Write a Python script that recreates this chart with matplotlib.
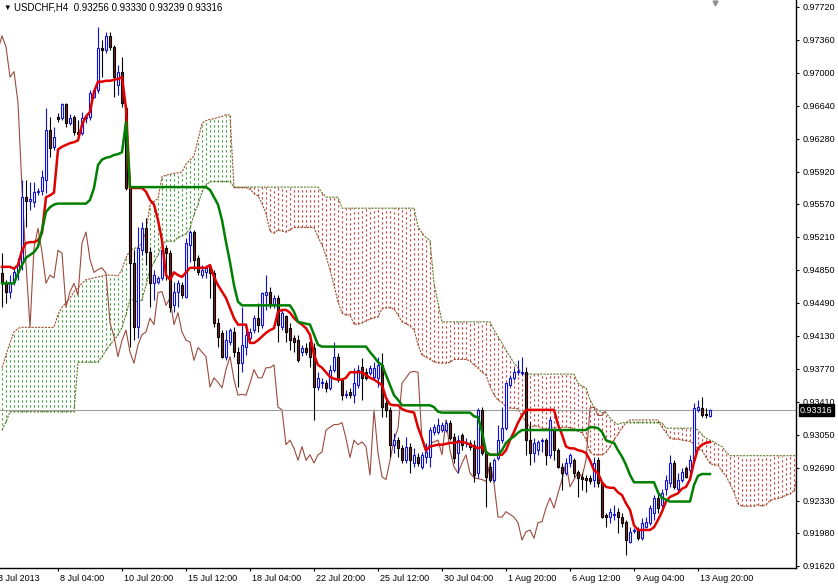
import numpy as np
import matplotlib
matplotlib.use("Agg")
import matplotlib.pyplot as plt
import matplotlib.transforms as mtransforms

plt.rcParams["font.family"] = ["Liberation Sans", "DejaVu Sans"]

symbol = "USDCHF,H4"
last_bar = [0.93256, 0.93330, 0.93239, 0.93316]
current_price = 0.93316

# H4 candles, oldest first
opens = [
    0.9481, 0.9470, 0.9461, 0.9472, 0.9482, 0.9492, 0.9564, 0.9560, 0.9559, 0.9570,
    0.9571, 0.9583, 0.9637, 0.9619, 0.9652, 0.9650, 0.9666, 0.9645, 0.9652, 0.9635,
    0.9634, 0.9650, 0.9652, 0.9673, 0.9681, 0.9727, 0.9725, 0.9740, 0.9728, 0.9686,
    0.9701, 0.9661, 0.9574, 0.9492, 0.9422, 0.9506, 0.9530, 0.9504, 0.9470, 0.9472,
    0.9476, 0.9509, 0.9503, 0.9446, 0.9461, 0.9468, 0.9455, 0.9512, 0.9526, 0.9498,
    0.9479, 0.9482, 0.9488, 0.9481, 0.9427, 0.9416, 0.9390, 0.9406, 0.9417, 0.9395,
    0.9383, 0.9401, 0.9410, 0.9419, 0.9432, 0.9425, 0.9457, 0.9461, 0.9446, 0.9454,
    0.9422, 0.9434, 0.9421, 0.9410, 0.9408, 0.9395, 0.9400, 0.9406, 0.9400, 0.9357,
    0.9361, 0.9361, 0.9356, 0.9376, 0.9390, 0.9365, 0.9348, 0.9352, 0.9348, 0.9359,
    0.9379, 0.9373, 0.9372, 0.9368, 0.9367, 0.9381, 0.9340, 0.9332, 0.9294, 0.9299,
    0.9290, 0.9277, 0.9292, 0.9274, 0.9281, 0.9270, 0.9281, 0.9281, 0.9308, 0.9308,
    0.9310, 0.9310, 0.9318, 0.9302, 0.9285, 0.9305, 0.9296, 0.9296, 0.9294, 0.9263,
    0.9332, 0.9285, 0.9270, 0.9256, 0.9280, 0.9299, 0.9312, 0.9359, 0.9367, 0.9373,
    0.9372, 0.9373, 0.9299, 0.9285, 0.9288, 0.9298, 0.9299, 0.9283, 0.9310, 0.9288,
    0.9270, 0.9263, 0.9274, 0.9277, 0.9264, 0.9259, 0.9258, 0.9258, 0.9256, 0.9277,
    0.9252, 0.9217, 0.9215, 0.9217, 0.9221, 0.9215, 0.9210, 0.9188, 0.9200, 0.9201,
    0.9192, 0.9204, 0.9209, 0.9220, 0.9236, 0.9228, 0.9246, 0.9252, 0.9274, 0.9246,
    0.9256, 0.9269, 0.9266, 0.9277, 0.9332, 0.9334, 0.9327, 0.93256,
]
highs = [
    0.9503, 0.9474, 0.9479, 0.9487, 0.9498, 0.9583, 0.9583, 0.9581, 0.9581, 0.9574,
    0.9594, 0.9661, 0.9652, 0.9641, 0.9656, 0.9667, 0.9667, 0.9655, 0.9654, 0.9648,
    0.9657, 0.9654, 0.9681, 0.9683, 0.9750, 0.9736, 0.9744, 0.9744, 0.9730, 0.9708,
    0.9717, 0.9665, 0.9576, 0.9506, 0.9532, 0.9537, 0.9541, 0.9510, 0.9485, 0.9478,
    0.9512, 0.9512, 0.9506, 0.9472, 0.9474, 0.9472, 0.9520, 0.9528, 0.9528, 0.9501,
    0.9490, 0.9490, 0.9490, 0.9485, 0.9432, 0.9419, 0.9419, 0.9421, 0.9422, 0.9401,
    0.9444, 0.9425, 0.9421, 0.9436, 0.9449, 0.9461, 0.9479, 0.9466, 0.9457, 0.9457,
    0.9441, 0.9436, 0.9427, 0.9414, 0.9414, 0.9403, 0.9405, 0.9410, 0.9405, 0.9373,
    0.9367, 0.9365, 0.9381, 0.9406, 0.9394, 0.9367, 0.9354, 0.9356, 0.9378, 0.9381,
    0.9389, 0.9378, 0.9381, 0.9384, 0.9390, 0.9394, 0.9345, 0.9335, 0.9307, 0.9302,
    0.9294, 0.9302, 0.9296, 0.9290, 0.9285, 0.9286, 0.9296, 0.9313, 0.9317, 0.9323,
    0.9319, 0.9321, 0.9321, 0.9307, 0.9305, 0.9307, 0.9301, 0.9299, 0.9299, 0.9334,
    0.9335, 0.9288, 0.9275, 0.9280, 0.9316, 0.9335, 0.9362, 0.9370, 0.9378, 0.9386,
    0.9390, 0.9379, 0.9319, 0.9301, 0.9299, 0.9301, 0.9301, 0.9324, 0.9312, 0.9290,
    0.9274, 0.9280, 0.9285, 0.9280, 0.9266, 0.9263, 0.9261, 0.9261, 0.9281, 0.9281,
    0.9253, 0.9220, 0.9225, 0.9228, 0.9225, 0.9220, 0.9212, 0.9204, 0.9203, 0.9204,
    0.9214, 0.9215, 0.9228, 0.9239, 0.9241, 0.9246, 0.9261, 0.9283, 0.9277, 0.9263,
    0.9269, 0.9271, 0.9283, 0.9340, 0.9343, 0.9346, 0.9334, 0.93330,
]
lows = [
    0.9444, 0.9449, 0.9454, 0.9468, 0.9474, 0.9485, 0.9532, 0.9550, 0.9553, 0.9566,
    0.9566, 0.9569, 0.9608, 0.9616, 0.9646, 0.9648, 0.9641, 0.9643, 0.9632, 0.9629,
    0.9632, 0.9645, 0.9648, 0.9672, 0.9678, 0.9695, 0.9721, 0.9725, 0.9673, 0.9676,
    0.9662, 0.9572, 0.9401, 0.9408, 0.9410, 0.9501, 0.9490, 0.9444, 0.9452, 0.9469,
    0.9474, 0.9474, 0.9439, 0.9439, 0.9444, 0.9454, 0.9454, 0.9493, 0.9485, 0.9479,
    0.9476, 0.9476, 0.9454, 0.9422, 0.9401, 0.9389, 0.9386, 0.9403, 0.9390, 0.9357,
    0.9373, 0.9392, 0.9408, 0.9416, 0.9417, 0.9421, 0.9441, 0.9443, 0.9443, 0.9406,
    0.9419, 0.9406, 0.9397, 0.9395, 0.9384, 0.9391, 0.9392, 0.9379, 0.9321, 0.9354,
    0.9356, 0.9352, 0.9354, 0.9373, 0.9362, 0.9343, 0.9345, 0.9345, 0.9340, 0.9356,
    0.9343, 0.9365, 0.9370, 0.9365, 0.9357, 0.9324, 0.9324, 0.9281, 0.9285, 0.9281,
    0.9274, 0.9274, 0.9263, 0.9270, 0.9271, 0.9268, 0.9274, 0.9270, 0.9305, 0.9306,
    0.9308, 0.9308, 0.9299, 0.9274, 0.9263, 0.9288, 0.9292, 0.9288, 0.9253, 0.9258,
    0.9283, 0.9226, 0.9253, 0.9253, 0.9277, 0.9296, 0.9310, 0.9357, 0.9365, 0.9370,
    0.9370, 0.9283, 0.9272, 0.9275, 0.9283, 0.9286, 0.9272, 0.9280, 0.9277, 0.9269,
    0.9245, 0.9261, 0.9270, 0.9259, 0.9237, 0.9245, 0.9242, 0.9251, 0.9248, 0.9248,
    0.9214, 0.9204, 0.9209, 0.9212, 0.9198, 0.9204, 0.9174, 0.9187, 0.9198, 0.9190,
    0.9190, 0.9203, 0.9206, 0.9212, 0.9220, 0.9225, 0.9239, 0.9248, 0.9246, 0.9241,
    0.9253, 0.9258, 0.9261, 0.9275, 0.9330, 0.9324, 0.9323, 0.93239,
]
closes = [
    0.9470, 0.9461, 0.9472, 0.9482, 0.9492, 0.9564, 0.9560, 0.9562, 0.9570, 0.9571,
    0.9586, 0.9637, 0.9618, 0.9630, 0.9649, 0.9666, 0.9645, 0.9650, 0.9635, 0.9633,
    0.9650, 0.9651, 0.9678, 0.9681, 0.9727, 0.9725, 0.9740, 0.9728, 0.9695, 0.9701,
    0.9667, 0.9574, 0.9492, 0.9422, 0.9509, 0.9530, 0.9504, 0.9470, 0.9479, 0.9476,
    0.9506, 0.9503, 0.9444, 0.9461, 0.9470, 0.9457, 0.9514, 0.9526, 0.9496, 0.9482,
    0.9485, 0.9487, 0.9481, 0.9427, 0.9412, 0.9390, 0.9408, 0.9419, 0.9395, 0.9383,
    0.9403, 0.9414, 0.9417, 0.9432, 0.9425, 0.9460, 0.9461, 0.9446, 0.9454, 0.9425,
    0.9438, 0.9417, 0.9408, 0.9406, 0.9386, 0.9400, 0.9395, 0.9390, 0.9357, 0.9367,
    0.9362, 0.9356, 0.9376, 0.9390, 0.9365, 0.9348, 0.9349, 0.9348, 0.9361, 0.9376,
    0.9367, 0.9367, 0.9378, 0.9378, 0.9381, 0.9335, 0.9332, 0.9294, 0.9299, 0.9290,
    0.9277, 0.9292, 0.9277, 0.9283, 0.9274, 0.9283, 0.9286, 0.9310, 0.9313, 0.9316,
    0.9316, 0.9318, 0.9301, 0.9280, 0.9299, 0.9294, 0.9297, 0.9292, 0.9261, 0.9332,
    0.9285, 0.9259, 0.9256, 0.9277, 0.9299, 0.9312, 0.9361, 0.9367, 0.9373, 0.9374,
    0.9373, 0.9299, 0.9285, 0.9296, 0.9297, 0.9299, 0.9283, 0.9321, 0.9288, 0.9270,
    0.9263, 0.9274, 0.9283, 0.9263, 0.9258, 0.9257, 0.9256, 0.9254, 0.9274, 0.9252,
    0.9215, 0.9215, 0.9221, 0.9218, 0.9215, 0.9209, 0.9190, 0.9199, 0.9201, 0.9192,
    0.9209, 0.9210, 0.9225, 0.9236, 0.9225, 0.9241, 0.9256, 0.9274, 0.9248, 0.9256,
    0.9264, 0.9259, 0.9277, 0.9334, 0.9335, 0.9326, 0.9326, 0.93316,
]

# Ichimoku lines
tenkan = [
    0.9488, 0.9488, 0.9488, 0.9486, 0.9490, 0.9506, 0.9514, 0.9515, 0.9515, 0.9517,
    0.9525, 0.9564, 0.9566, 0.9569, 0.9616, 0.9619, 0.9621, 0.9623, 0.9624, 0.9626,
    0.9643, 0.9652, 0.9657, 0.9679, 0.9690, 0.9690, 0.9691, 0.9691, 0.9692, 0.9693,
    0.9695, 0.9661, 0.9574, 0.9574, 0.9574, 0.9574, 0.9570, 0.9561, 0.9556, 0.9539,
    0.9517, 0.9479, 0.9474, 0.9482, 0.9479, 0.9477, 0.9482, 0.9487, 0.9487, 0.9487,
    0.9487, 0.9487, 0.9490, 0.9477, 0.9468, 0.9461, 0.9454, 0.9443, 0.9432, 0.9425,
    0.9425, 0.9425, 0.9405, 0.9405, 0.9408, 0.9412, 0.9416, 0.9419, 0.9421, 0.9439,
    0.9441, 0.9441, 0.9438, 0.9432, 0.9428, 0.9425, 0.9421, 0.9414, 0.9392, 0.9381,
    0.9378, 0.9373, 0.9368, 0.9366, 0.9365, 0.9365, 0.9367, 0.9373, 0.9373, 0.9373,
    0.9373, 0.9370, 0.9367, 0.9365, 0.9362, 0.9359, 0.9345, 0.9338, 0.9337, 0.9337,
    0.9333, 0.9331, 0.9330, 0.9329, 0.9313, 0.9301, 0.9288, 0.9292, 0.9293, 0.9294,
    0.9294, 0.9295, 0.9296, 0.9296, 0.9297, 0.9297, 0.9296, 0.9294, 0.9292, 0.9290,
    0.9292, 0.9286, 0.9283, 0.9283, 0.9283, 0.9283, 0.9288, 0.9299, 0.9308, 0.9318,
    0.9326, 0.9332, 0.9332, 0.9332, 0.9332, 0.9332, 0.9332, 0.9332, 0.9332, 0.9316,
    0.9305, 0.9292, 0.9290, 0.9290, 0.9288, 0.9287, 0.9285, 0.9277, 0.9266, 0.9263,
    0.9253, 0.9248, 0.9247, 0.9247, 0.9242, 0.9239, 0.9230, 0.9223, 0.9206, 0.9201,
    0.9201, 0.9201, 0.9201, 0.9204, 0.9212, 0.9221, 0.9232, 0.9237, 0.9239, 0.9241,
    0.9246, 0.9248, 0.9256, 0.9275, 0.9290, 0.9294, 0.9296, 0.9297,
]
kijun_levels = [
    0.9470, 0.9481, 0.9490, 0.9498, 0.9501, 0.9504, 0.9510, 0.9528, 0.9548, 0.9553,
    0.9556, 0.9557, 0.9561, 0.9574, 0.9599, 0.9605, 0.9607, 0.9608, 0.9610, 0.9611,
    0.9613, 0.9646, 0.9575, 0.9572, 0.9564, 0.9556, 0.9539, 0.9515, 0.9493, 0.9468,
    0.9450, 0.9446, 0.9439, 0.9428, 0.9427, 0.9426, 0.9425, 0.9414, 0.9403, 0.9401,
    0.9395, 0.9390, 0.9384, 0.9381, 0.9370, 0.9359, 0.9348, 0.9343, 0.9337, 0.9335,
    0.9330, 0.9329, 0.9325, 0.9324, 0.9308, 0.9286, 0.9283, 0.9288, 0.9296, 0.9300,
    0.9303, 0.9307, 0.9310, 0.9313, 0.9312, 0.9308, 0.9299, 0.9297, 0.9296, 0.9288,
    0.9281, 0.9272, 0.9261, 0.9253, 0.9242, 0.9236, 0.9234, 0.9232, 0.9250, 0.9260,
    0.9262,
]
kijun_counts = [
    4, 1, 1, 1, 1, 1, 1, 1, 1, 1,
    1, 8, 1, 1, 1, 1, 1, 1, 1, 1,
    1, 1, 20, 1, 1, 1, 1, 1, 1, 1,
    1, 13, 1, 1, 1, 1, 1, 1, 1, 12,
    1, 1, 1, 1, 1, 1, 1, 1, 8, 1,
    1, 8, 1, 1, 1, 1, 3, 1, 1, 1,
    1, 1, 17, 2, 1, 1, 1, 1, 1, 1,
    1, 1, 1, 6, 1, 1, 1, 6, 1, 1,
    3,
]
senkou_a_head = [
    0.9378, 0.9392, 0.9405, 0.9417, 0.9421, 0.9422, 0.9422, 0.9422, 0.9422, 0.9422,
    0.9422, 0.9422, 0.9422, 0.9422, 0.9436, 0.9444, 0.9449, 0.9454, 0.9461, 0.9465,
    0.9470, 0.9474, 0.9475, 0.9476, 0.9477, 0.9478,
]
senkou_b_levels = [
    0.9310, 0.9319, 0.9330, 0.9384, 0.9390, 0.9397, 0.9403, 0.9408, 0.9414, 0.9422,
    0.9436, 0.9452, 0.9449, 0.9452, 0.9468, 0.9485, 0.9493, 0.9501, 0.9512, 0.9516,
    0.9520, 0.9522, 0.9524, 0.9530, 0.9545, 0.9556, 0.9570, 0.9577, 0.9581, 0.9575,
    0.9569, 0.9564, 0.9552, 0.9532, 0.9525, 0.9520, 0.9517, 0.9470, 0.9449, 0.9428,
    0.9419, 0.9412, 0.9405, 0.9397, 0.9390, 0.9383, 0.9378, 0.9371, 0.9361, 0.9358,
    0.9356, 0.9343, 0.9335, 0.9332, 0.9329, 0.9323, 0.9319, 0.9316, 0.9318, 0.9312,
    0.9310, 0.9305, 0.9301, 0.9299, 0.9297, 0.9294, 0.9292, 0.9286, 0.9282,
]
senkou_b_counts = [
    1, 1, 17, 6, 1, 1, 1, 1, 1, 1,
    1, 2, 1, 1, 1, 1, 1, 1, 1, 3,
    1, 1, 1, 1, 1, 1, 1, 1, 6, 22,
    1, 4, 19, 1, 1, 1, 1, 1, 1, 13,
    1, 1, 1, 1, 1, 1, 1, 14, 1, 1,
    1, 1, 1, 1, 2, 1, 1, 1, 11, 8,
    1, 1, 1, 1, 1, 1, 1, 1, 22,
]

price_ticks = [0.97720, 0.97360, 0.97000, 0.96640, 0.96280, 0.95920, 0.95570, 0.95210,
               0.94850, 0.94490, 0.94130, 0.93770, 0.93410, 0.93050, 0.92690, 0.92330,
               0.91980, 0.91620]
time_bars = [14, 30, 46, 62, 78, 94, 110, 126, 142, 158, 174]
time_labels = ["8 Jul 04:00", "10 Jul 20:00", "15 Jul 12:00", "18 Jul 04:00",
               "22 Jul 20:00", "25 Jul 12:00", "30 Jul 04:00", "1 Aug 20:00",
               "6 Aug 12:00", "9 Aug 04:00", "13 Aug 20:00"]
first_label = "3 Jul 2013"
first_label_bar = -2

o = np.array(opens)
h = np.array(highs)
l = np.array(lows)
c = np.array(closes)
x = np.arange(len(c))
tk = np.array(tenkan)
kj = np.repeat(kijun_levels, kijun_counts)
span_a = np.r_[senkou_a_head, (tk + kj) / 2]
span_b = np.repeat(senkou_b_levels, senkou_b_counts)
cx = np.arange(len(span_a))

fig = plt.figure(figsize=(8.38, 5.86), dpi=100)
ax = fig.add_axes([0, 18 / 586, 796 / 838, 568 / 586])

# kumo hatching: one dotted column per bar
up = span_a >= span_b
dots = (0, (2, 2.5))
ax.vlines(cx[up], span_b[up], span_a[up], colors="#3c9a3c", linestyles=dots, lw=0.8, zorder=1)
ax.vlines(cx[~up], span_a[~up], span_b[~up], colors="#d23c3c", linestyles=dots, lw=0.8, zorder=1)
ax.plot(cx, span_a, color="#a0522d", lw=0.8, ls=(0, (2, 1)), zorder=2)
ax.plot(cx, span_b, color="#5f7a2a", lw=0.8, ls=(0, (2, 1)), zorder=2)

# chikou span = close shifted back 26 bars
ax.plot(x - 26, c, color="#9c4a3c", lw=0.8, zorder=2)

ax.axhline(current_price, color="#a0a0a0", lw=0.8, zorder=2)

bull = c >= o
lo = np.minimum(o, c)
ht = np.abs(c - o)
ax.vlines(x[bull], l[bull], h[bull], color="#1010d0", lw=0.8, zorder=3)
ax.vlines(x[~bull], l[~bull], h[~bull], color="black", lw=0.8, zorder=3)
ax.bar(x[bull], ht[bull], bottom=lo[bull], width=0.62, facecolor="white",
       edgecolor="#1010d0", lw=0.8, zorder=4)
ax.bar(x[~bull], ht[~bull], bottom=lo[~bull], width=0.62, facecolor="#8b2020",
       edgecolor="black", lw=0.8, zorder=4)

ax.plot(x, tk, color="#e00000", lw=1.8, zorder=5)
ax.plot(x, kj, color="#008000", lw=1.8, zorder=5)

ax.set_xlim(-0.5, 198.5)
ax.set_ylim(0.91595, 0.97791)
for side in ["top", "left"]:
    ax.spines[side].set_visible(False)
for side in ["right", "bottom"]:
    ax.spines[side].set_linewidth(1.0)

ax.yaxis.tick_right()
ax.set_yticks(price_ticks)
ax.set_yticklabels([f"{v:.5f}" for v in price_ticks])
ax.tick_params(axis="y", length=2.5, width=0.8, pad=2.5, labelsize=6.5)
ax.set_xticks(time_bars)
ax.set_xticklabels(time_labels, ha="left")
ax.tick_params(axis="x", length=2.5, width=0.8, pad=2, labelsize=6.5)
shift = mtransforms.ScaledTranslation(2 / 100, 0, fig.dpi_scale_trans)
for lbl in ax.get_xticklabels():
    lbl.set_transform(lbl.get_transform() + shift)
ax.annotate(first_label, xy=(first_label_bar, 0), xycoords=("data", "axes fraction"),
            xytext=(3, -4.5), textcoords="offset points", ha="left", va="top",
            fontsize=6.5, annotation_clip=False)

ax.text(1.005, current_price, f"{current_price:.5f}",
        transform=mtransforms.blended_transform_factory(ax.transAxes, ax.transData),
        ha="left", va="center", color="white", fontsize=6.5,
        bbox=dict(boxstyle="square,pad=0.15", fc="black", ec="black"), zorder=10)

ax.plot([178.25], [0.9776], marker="v", color="#909090", ms=3.5, clip_on=False)

fig.text(3 / 838, 1 - 8 / 586, "\u25bc", fontsize=5.5, va="center")
fig.text(14 / 838, 1 - 8 / 586,
         f"{symbol}  " + " ".join(f"{v:.5f}" for v in last_bar),
         fontsize=7, va="center")

fig.savefig("out.png", dpi=100)
